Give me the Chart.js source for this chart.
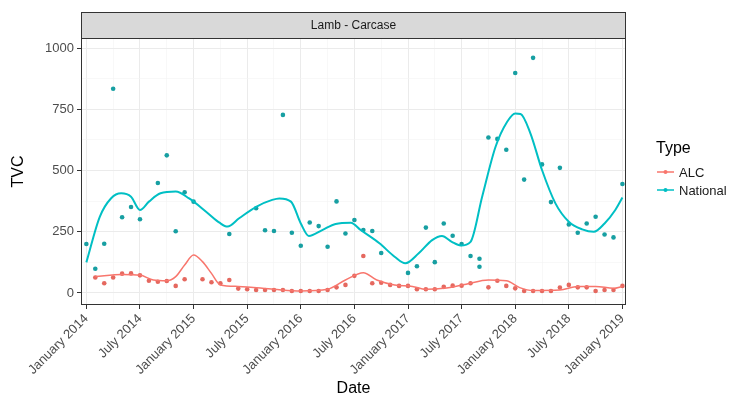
<!DOCTYPE html>
<html>
<head>
<meta charset="utf-8">
<script src="https://cdn.jsdelivr.net/npm/chart.js@4.4.1/dist/chart.umd.min.js"></script>
<style>
  body { margin: 0; background: #fff; }
  canvas { display: block; }
</style>
</head>
<body>
<canvas id="tvcChart" width="746" height="406"></canvas>
<script>
// sample months (YYYY-MM) and TVC values
const nationalDates = [
  "2014-01", "2014-02", "2014-03", "2014-04", "2014-05", "2014-06", "2014-07",
  "2014-09", "2014-10", "2014-11", "2014-12", "2015-01", "2015-05", "2015-08",
  "2015-09", "2015-10", "2015-11", "2015-12", "2016-01", "2016-02", "2016-03",
  "2016-04", "2016-05", "2016-06", "2016-07", "2016-08", "2016-09", "2016-10",
  "2017-01", "2017-02", "2017-03", "2017-04", "2017-05", "2017-06", "2017-07",
  "2017-08", "2017-09", "2017-09", "2017-10", "2017-11", "2017-12", "2018-01",
  "2018-02", "2018-03", "2018-04", "2018-05", "2018-06", "2018-07", "2018-08",
  "2018-09", "2018-10", "2018-11", "2018-12", "2019-01",
];
const nationalValues = [
  200, 99, 201, 834, 309, 351, 301,
  449, 562, 252, 411, 373, 241, 346,
  256, 253, 727, 246, 193, 288, 273,
  189, 374, 243, 298, 257, 253, 163,
  82, 109, 267, 126, 284, 234, 200,
  151, 140, 107, 635, 629, 585, 898,
  463, 960, 525, 371, 511, 280, 246,
  284, 311, 239, 227, 445,
];

const alcDates = [
  "2014-02", "2014-03", "2014-04", "2014-05", "2014-06", "2014-07", "2014-08",
  "2014-09", "2014-10", "2014-11", "2014-12", "2015-02", "2015-03", "2015-04",
  "2015-05", "2015-06", "2015-07", "2015-08", "2015-09", "2015-10", "2015-11",
  "2015-12", "2016-01", "2016-02", "2016-03", "2016-04", "2016-05", "2016-06",
  "2016-07", "2016-08", "2016-09", "2016-10", "2016-11", "2016-12", "2017-01",
  "2017-02", "2017-03", "2017-04", "2017-05", "2017-06", "2017-07", "2017-08",
  "2017-10", "2017-11", "2017-12", "2018-01", "2018-02", "2018-03", "2018-04",
  "2018-05", "2018-06", "2018-07", "2018-08", "2018-09", "2018-10", "2018-11",
  "2018-12", "2019-01",
];
const alcValues = [
  63, 40, 63, 79, 80, 72, 50,
  46, 49, 29, 56, 56, 44, 40,
  53, 18, 15, 12, 12, 12, 12,
  8, 8, 8, 8, 12, 23, 33,
  70, 151, 40, 42, 33, 29, 29,
  15, 15, 15, 25, 30, 30, 40,
  23, 50, 29, 19, 8, 8, 8,
  8, 22, 33, 23, 23, 8, 12,
  12, 29,
];

// smoothed trend (months since Jan 2014)
const nationalTrendMonths = [
  0, 1.5, 2.75, 3.9, 5, 6, 7, 8.3, 10, 11.5, 13.4, 14.9, 15.8, 17.1, 19,
  20.8, 21.6, 22.9, 24, 24.9, 26.4, 27.9, 29.6, 30.7, 32.8, 34.5, 35.7,
  37.2, 38.7, 39.8, 40.9, 41.9, 43, 44.3, 45.8, 47.1, 48, 48.6, 49.7, 51,
  52.5, 54, 55.5, 56.8, 58, 59.2, 60,
];
const nationalTrend = [
  125, 311, 386, 407, 393, 339, 373, 407, 414, 386, 332, 287, 271, 305, 352,
  380, 386, 373, 284, 233, 257, 282, 287, 257, 203, 148, 121,
  162, 216, 233, 209, 194, 209, 393, 597, 699, 733, 731, 652, 502,
  366, 291, 260, 250, 284, 339, 390,
];
const alcTrendMonths = [
  1, 4, 6, 7.5, 9, 10, 11, 12, 13, 14, 15, 17, 21, 24, 27, 29, 31, 32.5,
  34.5, 36.5, 38, 40, 42.5, 45, 47, 48.5, 50, 53, 55, 57, 59, 60,
];
const alcTrend = [
  67, 76, 73, 53, 50, 67, 114, 155, 128, 80, 33, 27, 15, 8, 15, 53, 83, 53,
  33, 27, 15, 19, 36, 53, 50, 22, 10, 12, 27, 27, 19, 27,
];

const yTicks = [0, 125, 250, 375, 500, 625, 750, 875, 1000];
const monthNames = ["January", "February", "March", "April", "May", "June",
  "July", "August", "September", "October", "November", "December"];

const RED = "#F8766D";
const TEAL = "#00BFC4";
const FONT = "'Liberation Sans', Arial, sans-serif";

function monthIndex(s) {
  const [y, m] = s.split("-").map(Number);
  return (y - 2014) * 12 + (m - 1);
}

function toPoints(dates, values) {
  return dates.map((d, i) => ({ x: monthIndex(d), y: values[i] }));
}

function zipPoints(xs, ys) {
  return xs.map((x, i) => ({ x: x, y: ys[i] }));
}

// facet strip, panel border and the legend, ggplot style
const ggDecor = {
  id: "ggDecor",
  afterDraw(chart) {
    const { ctx, chartArea: a } = chart;
    ctx.save();
    ctx.strokeStyle = "#333333";
    ctx.lineWidth = 1;
    ctx.strokeRect(a.left + 0.5, a.top + 0.5, a.right - a.left - 1, a.bottom - a.top - 1);

    ctx.fillStyle = "#D9D9D9";
    ctx.fillRect(a.left, 12, a.right - a.left, a.top - 12);
    ctx.strokeRect(a.left + 0.5, 12.5, a.right - a.left - 1, a.top - 12);
    ctx.fillStyle = "#1A1A1A";
    ctx.font = "12px " + FONT;
    ctx.textAlign = "center";
    ctx.textBaseline = "middle";
    ctx.fillText("Lamb - Carcase", (a.left + a.right) / 2, (12 + a.top) / 2 + 1);

    ctx.textAlign = "left";
    ctx.fillStyle = "#000";
    ctx.font = "16px " + FONT;
    ctx.fillText("Type", 656, 149);
    const keys = [["ALC", RED, 172], ["National", TEAL, 190]];
    ctx.font = "13px " + FONT;
    keys.forEach(([label, col, y]) => {
      ctx.strokeStyle = col;
      ctx.lineWidth = 1.5;
      ctx.beginPath();
      ctx.moveTo(657, y);
      ctx.lineTo(674, y);
      ctx.stroke();
      ctx.fillStyle = col;
      ctx.beginPath();
      ctx.arc(665.5, y, 2, 0, Math.PI * 2);
      ctx.fill();
      ctx.fillStyle = "#1A1A1A";
      ctx.fillText(label, 679, y + 1);
    });
    ctx.restore();
  },
};

const config = {
  type: "scatter",
  data: {
    datasets: [
      {
        label: "ALC trend",
        type: "line",
        data: zipPoints(alcTrendMonths, alcTrend),
        borderColor: RED,
        borderWidth: 1.5,
        pointRadius: 0,
        cubicInterpolationMode: "monotone",
        fill: false,
      },
      {
        label: "National trend",
        type: "line",
        data: zipPoints(nationalTrendMonths, nationalTrend),
        borderColor: TEAL,
        borderWidth: 2,
        pointRadius: 0,
        cubicInterpolationMode: "monotone",
        fill: false,
      },
      {
        label: "ALC",
        data: toPoints(alcDates, alcValues),
        backgroundColor: "#E5685F",
        borderColor: "#E5685F",
        pointRadius: 2.3,
        borderWidth: 0,
      },
      {
        label: "National",
        data: toPoints(nationalDates, nationalValues),
        backgroundColor: "#179FA2",
        borderColor: "#179FA2",
        pointRadius: 2.3,
        borderWidth: 0,
      },
    ],
  },
  options: {
    responsive: false,
    animation: false,
    layout: { padding: { top: 38, right: 120, left: 0, bottom: 0 } },
    plugins: {
      legend: { display: false },
      tooltip: { enabled: false },
    },
    scales: {
      x: {
        type: "linear",
        min: -0.6,
        max: 60.4,
        afterBuildTicks: (scale) => {
          const t = [];
          for (let m = 0; m <= 60; m += 3) t.push({ value: m });
          scale.ticks = t;
        },
        afterFit: (scale) => { scale.height = 101; },
        ticks: {
          autoSkip: false,
          minRotation: 45,
          maxRotation: 45,
          padding: 2,
          color: "#4D4D4D",
          font: { family: FONT, size: 13 },
          callback: (v) => {
            if (v % 6 !== 0) return "";
            return monthNames[v % 12] + " " + (2014 + Math.floor(v / 12));
          },
        },
        grid: {
          color: (c) => (c.tick && c.tick.value % 6 === 0 ? "#EBEBEB" : "#F4F4F4"),
          lineWidth: (c) => (c.tick && c.tick.value % 6 === 0 ? 1 : 0.6),
          tickColor: (c) => (c.tick && c.tick.value % 6 === 0 ? "#333333" : "rgba(0,0,0,0)"),
          tickLength: 4,
        },
        border: { display: false },
        title: {
          display: true,
          text: "Date",
          color: "#000",
          font: { family: FONT, size: 16 },
          padding: { top: 0, bottom: 8 },
        },
      },
      y: {
        min: -49,
        max: 1041,
        afterBuildTicks: (scale) => {
          scale.ticks = yTicks.map((v) => ({ value: v }));
        },
        afterFit: (scale) => { scale.width = 81; },
        ticks: {
          padding: 3,
          color: "#4D4D4D",
          font: { family: FONT, size: 13 },
          callback: (v) => (v % 250 === 0 ? String(v) : ""),
        },
        grid: {
          color: (c) => (c.tick && c.tick.value % 250 === 0 ? "#EBEBEB" : "#F4F4F4"),
          lineWidth: (c) => (c.tick && c.tick.value % 250 === 0 ? 1 : 0.6),
          tickColor: (c) => (c.tick && c.tick.value % 250 === 0 ? "#333333" : "rgba(0,0,0,0)"),
          tickLength: 4,
        },
        border: { display: false },
        title: {
          display: true,
          text: "TVC",
          color: "#000",
          font: { family: FONT, size: 16 },
          padding: { top: 9, bottom: 0 },
        },
      },
    },
  },
  plugins: [ggDecor],
};

const ctx = document.getElementById("tvcChart").getContext("2d");
const tvcChart = new Chart(ctx, config);
</script>
</body>
</html>
